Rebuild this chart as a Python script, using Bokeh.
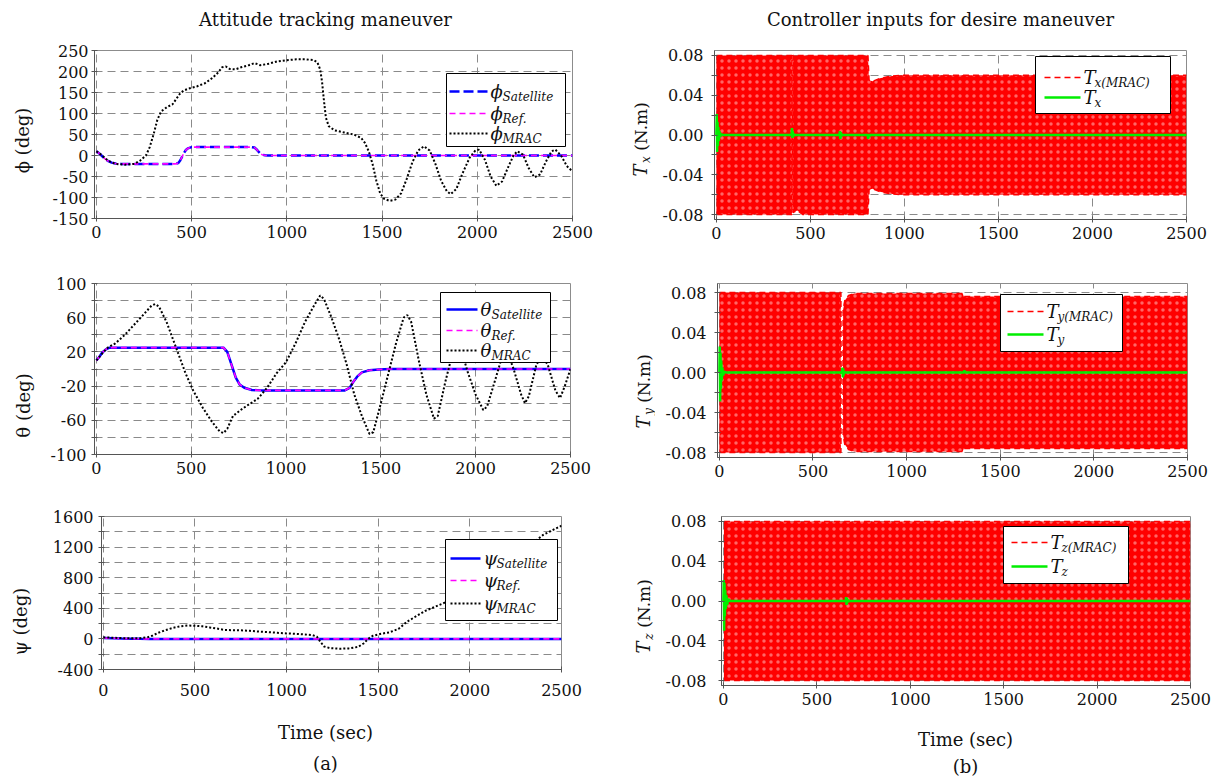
import math
from bokeh.plotting import figure
from bokeh.layouts import row, column
from bokeh.models import Range1d, FixedTicker, PrintfTickFormatter, Label
from bokeh.embed import file_html
from bokeh.resources import INLINE

FONT = "DejaVu Serif"
RED = "#ff0000"
GREEN = "#00ee00"
BLUE = "#0000ff"
MAGENTA = "#ff00ff"
GRID = "#8a8a8a"
INK = "#111111"

# ---------------- data ----------------
time_ticks = [0, 500, 1000, 1500, 2000, 2500]

# roll angle phi (deg)
phi_ref_t = [0, 20, 40, 60, 80, 100, 130, 415, 430, 440, 450, 460, 470, 480, 500, 815, 830, 840, 850, 860, 870, 885, 900, 2500]
phi_ref = [10, 3, -6, -13, -17, -19, -20, -20, -18, -12, -3, 6, 13, 17, 20, 20, 19, 15, 10, 5, 2, 0.5, 0, 0]
phi_sat_t = phi_ref_t
phi_sat = phi_ref
phi_mrac_t = [0, 30, 60, 100, 150, 200, 230, 260, 280, 300, 320, 340, 370, 400, 420, 440, 460, 490, 530, 570, 610,
              640, 660, 680, 700, 730, 760, 800, 830, 860, 900, 950, 1000, 1050, 1100, 1140, 1160, 1175, 1185, 1195,
              1205, 1220, 1250, 1300, 1350, 1390, 1410, 1430, 1450, 1470, 1490, 1510, 1540, 1570, 1600, 1630, 1660,
              1690, 1720, 1750, 1780, 1810, 1840, 1860, 1890, 1920, 1960, 1990, 2010, 2040, 2070, 2100, 2130, 2160,
              2190, 2210, 2240, 2270, 2300, 2330, 2360, 2390, 2410, 2440, 2470, 2500]
phi_mrac = [10, 0, -12, -20, -22, -20, -12, 0, 20, 50, 85, 105, 115, 122, 135, 148, 155, 160, 165, 172, 185,
            198, 210, 212, 206, 205, 210, 215, 220, 215, 218, 224, 227, 229, 229, 227, 222, 205, 175, 130,
            90, 70, 60, 55, 50, 42, 30, 10, -20, -60, -90, -103, -108, -105, -90, -55, -15,
            12, 22, 12, -20, -60, -85, -92, -80, -45, -5, 12, 14, -10, -50, -72, -62, -30,
            0, 10, 2, -30, -52, -45, -15, 10, 14, 0, -25, -38]

# pitch angle theta (deg)
theta_ref_t = [0, 15, 30, 50, 70, 670, 690, 705, 720, 735, 755, 780, 820, 870, 1310, 1335, 1355, 1375, 1400, 1440, 1490, 1550, 2500]
theta_ref = [10, 14, 19, 23, 25, 25, 20, 10, 0, -10, -18, -22, -24.5, -25, -25, -22, -15, -9, -4, -1.5, -0.5, 0, 0]
theta_sat_t = theta_ref_t
theta_sat = theta_ref
theta_mrac_t = [0, 30, 60, 100, 150, 200, 250, 290, 310, 330, 370, 420, 470, 510, 560, 610, 650, 670, 690, 720,
                760, 800, 850, 900, 950, 1000, 1050, 1100, 1150, 1180, 1200, 1240, 1280, 1320, 1360, 1400, 1440,
                1460, 1500, 1540, 1580, 1620, 1640, 1660, 1700, 1740, 1780, 1800, 1840, 1880, 1920, 1960, 2000,
                2040, 2060, 2100, 2140, 2170, 2200, 2240, 2260, 2280, 2320, 2350, 2380, 2420, 2445, 2470, 2500]
theta_mrac = [10, 18, 25, 30, 40, 52, 64, 74, 76, 73, 55, 25, -5, -25, -45, -62, -73, -75, -70, -55,
              -48, -42, -35, -22, -5, 8, 30, 55, 75, 86, 82, 60, 35, 5, -30, -55, -76,
              -74, -40, -5, 30, 60, 63, 55, 10, -30, -58, -55, -15, 20, 25, -5, -30,
              -48, -44, -15, 15, 18, 0, -30, -40, -32, 5, 15, 5, -25, -34, -20, 0]

# yaw angle psi (deg)
psi_ref_t = [0, 50, 100, 150, 200, 250, 2500]
psi_ref = [12, 8, 5, 3, 1, 0, 0]
psi_sat_t = psi_ref_t
psi_sat = psi_ref
psi_mrac_t = [0, 50, 100, 150, 200, 240, 270, 300, 340, 380, 420, 460, 500, 540, 580, 620, 660, 700, 750, 800,
              850, 900, 950, 1000, 1050, 1100, 1140, 1165, 1185, 1205, 1240, 1290, 1340, 1390, 1420, 1445, 1470,
              1510, 1560, 1610, 1660, 1710, 1760, 1810, 1850, 1900, 2000, 2100, 2200, 2300, 2400, 2450, 2500]
psi_mrac = [20, 15, 10, 8, 10, 20, 45, 80, 115, 145, 165, 175, 172, 165, 150, 135, 118, 114, 112, 105,
            95, 88, 80, 72, 66, 58, 50, 30, -40, -100, -122, -128, -124, -105, -60, 0, 40,
            65, 85, 130, 230, 300, 370, 420, 460, 520, 650, 820, 1000, 1170, 1360, 1420, 1480]

# control torques (N.m): MRAC envelope and proposed controller
tx_env_t = [0, 402, 403, 406, 407, 430, 460, 800, 806, 812, 830, 870, 920, 980, 2500]
tx_env_hi = [0.08, 0.08, 0.0, 0.0, 0.08, 0.08, 0.08, 0.08, 0.08, 0.055, 0.054, 0.057, 0.059, 0.06, 0.06]
tx_env_lo = [-0.08, -0.08, 0.0, 0.0, -0.078, -0.076, -0.08, -0.08, -0.08, -0.055, -0.054, -0.057, -0.059, -0.06, -0.06]
tx_t = [0, 2, 4, 6, 8, 10, 13, 16, 20, 25, 35, 400, 402, 404, 406, 408, 411, 415, 655, 657, 659, 661, 663, 666,
        670, 805, 807, 809, 812, 816, 2500]
tx_v = [0.0, 0.021, -0.017, 0.013, -0.011, 0.008, -0.006, 0.004, -0.002, 0.001, 0.0, 0.0, 0.007, -0.003, 0.004,
        -0.002, 0.001, 0.0, 0.0, 0.004, -0.004, 0.003, -0.002, 0.001, 0.0, 0.0, -0.004, 0.001, -0.002, 0.0, 0.0]

ty_env_t = [0, 649, 650, 660, 661, 670, 690, 720, 1300, 1305, 2500]
ty_env_hi = [0.08, 0.08, 0.0, 0.0, 0.063, 0.072, 0.077, 0.079, 0.079, 0.076, 0.076]
ty_env_lo = [-0.08, -0.08, 0.0, 0.0, -0.063, -0.072, -0.077, -0.079, -0.079, -0.076, -0.076]
ty_t = [0, 2, 4, 6, 8, 10, 13, 16, 20, 26, 35, 655, 657, 659, 661, 663, 666, 670, 1305, 1308, 1312, 2500]
ty_v = [0.0, 0.026, -0.029, 0.02, -0.016, 0.012, -0.008, 0.005, -0.003, 0.001, 0.0, 0.0, 0.005, -0.005, 0.004,
        -0.003, 0.001, 0.0, 0.0, 0.002, 0.0, 0.0]

tz_env_t = [3, 2500]
tz_env_hi = [0.08, 0.08]
tz_env_lo = [-0.08, -0.08]
tz_t = [0, 2, 4, 6, 8, 10, 13, 16, 20, 26, 35, 655, 657, 659, 661, 663, 666, 670, 2500]
tz_v = [0.0, 0.021, -0.03, 0.018, -0.015, 0.011, -0.008, 0.006, -0.004, 0.002, 0.0, 0.0, 0.004, -0.004, 0.003,
        -0.002, 0.001, 0.0, 0.0]

deg_ticks_phi = ([-150, -100, -50, 0, 50, 100, 150, 200, 250], [])
deg_ticks_theta = ([-100, -60, -20, 20, 60, 100], [-80, -40, 0, 40, 80])
deg_ticks_psi = ([-400, 0, 400, 800, 1200, 1600], [-200, 200, 600, 1000, 1400])
torque_ticks = ([-0.08, -0.04, 0, 0.04, 0.08], [-0.06, -0.02, 0.02, 0.06])


# ---------------- helpers ----------------
def gx(s, X):
    x0, x1 = s["xr"]
    return x0 + (X - s["ox"] - s["fl"]) / s["fw"] * (x1 - x0)


def gy(s, Y):
    y0, y1 = s["yr"]
    return y1 - (Y - s["oy"] - s["ft"]) / s["fh"] * (y1 - y0)


def make_panel(s, yticks, yfmt, ystand, xstand=4):
    p = figure(frame_width=s["fw"], frame_height=s["fh"],
               min_border_left=s["fl"], min_border_top=s["ft"],
               min_border_right=s["cw"] - s["fl"] - s["fw"],
               min_border_bottom=s["ch"] - s["ft"] - s["fh"],
               x_range=Range1d(*s["xr"]), y_range=Range1d(*s["yr"]),
               output_backend="svg", toolbar_location=None, tools="")
    p.background_fill_color = "white"
    p.border_fill_color = "white"
    p.outline_line_color = "#8c8c8c"
    p.outline_line_width = 1

    p.xaxis.ticker = FixedTicker(ticks=time_ticks, minor_ticks=[])
    p.xaxis.formatter = PrintfTickFormatter(format="%d")
    p.yaxis.ticker = FixedTicker(ticks=yticks[0], minor_ticks=yticks[1])
    p.yaxis.formatter = PrintfTickFormatter(format=yfmt)

    for ax in (p.xaxis, p.yaxis):
        ax.axis_line_color = "#555555"
        ax.major_tick_line_color = "#555555"
        ax.minor_tick_line_color = "#555555"
        ax.major_tick_in = 3
        ax.major_tick_out = 3
        ax.minor_tick_in = 3
        ax.minor_tick_out = 3
        ax.major_label_text_font = FONT
        ax.major_label_text_font_size = "16px"
        ax.major_label_text_color = INK
    p.xaxis.major_label_standoff = xstand
    p.yaxis.major_label_standoff = ystand

    p.xgrid.grid_line_color = GRID
    p.xgrid.grid_line_dash = "8 5"
    p.ygrid.grid_line_color = GRID
    p.ygrid.grid_line_dash = "8 5"
    p.ygrid.minor_grid_line_color = GRID
    p.ygrid.minor_grid_line_dash = "8 5"
    return p


STRIP_ORIGIN = {}


def make_strip(ox, oy, w, h):
    """Blank strip used for titles and axis captions; its data units equal page pixels."""
    p = figure(frame_width=w, frame_height=h, min_border_left=0, min_border_right=0,
               min_border_top=0, min_border_bottom=0,
               x_range=Range1d(0, w), y_range=Range1d(h, 0),
               x_axis_type=None, y_axis_type=None,
               output_backend="svg", toolbar_location=None, tools="")
    p.outline_line_color = None
    p.background_fill_color = "white"
    p.border_fill_color = "white"
    STRIP_ORIGIN[p.id] = (ox, oy)
    return p


def caption(p, X, Y, txt, size="18px", style="normal", angle=0.0):
    ox, oy = STRIP_ORIGIN[p.id]
    p.add_layout(Label(x=X - ox, y=Y - oy, text=txt, text_font=FONT, text_font_size=size,
                       text_font_style=style, text_align="center", text_baseline="middle",
                       text_color=INK, angle=angle))


def text(p, s, X, Y, txt, size="17px", style="normal", align="left"):
    p.add_layout(Label(x=gx(s, X), y=gy(s, Y), text=txt, text_font=FONT, text_font_size=size,
                       text_font_style=style, text_align=align, text_baseline="middle",
                       text_color=INK, level="overlay"))


def legend(p, s, box, entries):
    x0, y0, x1, y1 = box
    p.quad(left=[gx(s, x0)], right=[gx(s, x1)], top=[gy(s, y0)], bottom=[gy(s, y1)],
           fill_color="white", line_color="black", line_width=1, level="overlay")
    for Y, sx0, sx1, kw, main, sub, subdx in entries:
        p.line([gx(s, sx0), gx(s, sx1)], [gy(s, Y), gy(s, Y)], level="overlay", **kw)
        tx = sx1 + 3
        text(p, s, tx, Y, main, size="18px", style="italic")
        text(p, s, tx + subdx, Y + 5, sub, size="12px", style="italic")


def torque_ylabel(strip, X, C, sub):
    yt = C + 31
    caption(strip, X, yt, "T", size="18px", style="italic", angle=math.pi / 2)
    caption(strip, X + 5, yt - 11, sub, size="12px", style="italic", angle=math.pi / 2)
    caption(strip, X, yt - 44, "(N.m)", size="17px", angle=math.pi / 2)


sat_kw_dash = dict(line_color=BLUE, line_width=2.5, line_dash="10 4")
sat_kw = dict(line_color=BLUE, line_width=2.5)
ref_kw = dict(line_color=MAGENTA, line_width=1.6, line_dash="6 4")
mrac_kw = dict(line_color="black", line_width=2, line_dash="2 2")
red_kw = dict(line_color=RED, line_width=1.5, line_dash="6 4")
green_kw = dict(line_color=GREEN, line_width=2.5)

# ---------------- panel geometry (page pixels) ----------------
S_phi = dict(ox=40, oy=36, cw=560, ch=214, fl=54, ft=14, fw=478, fh=168, xr=(-10, 2500), yr=(-150, 250))
S_tx = dict(ox=655, oy=36, cw=560, ch=214, fl=59, ft=14, fw=472, fh=169, xr=(-10, 2500), yr=(-0.085, 0.085))
S_theta = dict(ox=40, oy=250, cw=560, ch=240, fl=54, ft=33, fw=476, fh=171, xr=(-10, 2500), yr=(-100, 100))
S_ty = dict(ox=655, oy=250, cw=560, ch=240, fl=62, ft=19, fw=470, fh=174, xr=(-10, 2500), yr=(-0.085, 0.089))
S_psi = dict(ox=40, oy=490, cw=560, ch=222, fl=61, ft=26, fw=460, fh=153, xr=(-10, 2500), yr=(-400, 1600))
S_tz = dict(ox=655, oy=490, cw=560, ch=222, fl=66, ft=21, fw=469, fh=169, xr=(-10, 2500), yr=(-0.085, 0.085))

# caption strips
top = make_strip(0, 0, 1215, 36)
left1, left2, left3 = make_strip(0, 36, 40, 214), make_strip(0, 250, 40, 240), make_strip(0, 490, 40, 222)
right1, right2, right3 = make_strip(600, 36, 55, 214), make_strip(600, 250, 55, 240), make_strip(600, 490, 55, 222)
bottom = make_strip(0, 712, 1215, 66)

caption(top, 325, 19, "Attitude tracking maneuver")
caption(top, 940, 19, "Controller inputs for desire maneuver")

# ---------------- phi ----------------
p1 = make_panel(S_phi, deg_ticks_phi, "%d", 3)
p1.line(phi_sat_t, phi_sat, **sat_kw_dash)
p1.line(phi_ref_t, phi_ref, **ref_kw)
p1.line(phi_mrac_t, phi_mrac, **mrac_kw)
legend(p1, S_phi, (446, 73, 565, 146), [
    (91, 449, 487, sat_kw_dash, "ϕ", "Satellite", 12),
    (113, 449, 487, ref_kw, "ϕ", "Ref.", 12),
    (133, 449, 487, mrac_kw, "ϕ", "MRAC", 12),
])
caption(left1, 22, 126, "ϕ (deg)", angle=math.pi / 2)

# ---------------- theta ----------------
p2 = make_panel(S_theta, deg_ticks_theta, "%d", 5)
p2.line(theta_sat_t, theta_sat, **sat_kw)
p2.line(theta_ref_t, theta_ref, **ref_kw)
p2.line(theta_mrac_t, theta_mrac, **mrac_kw)
legend(p2, S_theta, (440, 292, 550, 362), [
    (309, 446, 477, sat_kw, "θ", "Satellite", 11),
    (330, 446, 477, ref_kw, "θ", "Ref.", 11),
    (350, 446, 477, mrac_kw, "θ", "MRAC", 11),
])
caption(left2, 23, 372, "θ (deg)", angle=math.pi / 2)

# ---------------- psi ----------------
p3 = make_panel(S_psi, deg_ticks_psi, "%d", 5, xstand=11)
p3.line(psi_sat_t, psi_sat, **sat_kw)
p3.line(psi_ref_t, psi_ref, **ref_kw)
p3.line(psi_mrac_t, psi_mrac, **mrac_kw)
legend(p3, S_psi, (445, 539, 557, 620), [
    (558, 450, 480, sat_kw, "ψ", "Satellite", 13),
    (580, 450, 480, ref_kw, "ψ", "Ref.", 13),
    (603, 450, 480, mrac_kw, "ψ", "MRAC", 13),
])
caption(left3, 20, 595, "ψ (deg)", angle=math.pi / 2)
caption(bottom, 325, 732, "Time (sec)")
caption(bottom, 325, 763, "(a)")


# ---------------- torques ----------------
def torque_panel(s, env_t, hi, lo, t, v, sub, leg_box, rows_y, sx0, ystand):
    p = make_panel(s, torque_ticks, "%.2f", ystand)
    # dense saturated oscillation drawn as its envelope band, light speckle for the line gaps
    p.varea(x=env_t, y1=lo, y2=hi, fill_color=RED, hatch_pattern="dot", hatch_color="white",
            hatch_alpha=0.4, hatch_scale=7, hatch_weight=0.6)
    p.line(env_t, hi, **red_kw)
    p.line(env_t, lo, **red_kw)
    p.line(t, v, **green_kw)
    legend(p, s, leg_box, [
        (rows_y[0], sx0, sx0 + 36, red_kw, "T", sub + "(MRAC)", 11),
        (rows_y[1], sx0, sx0 + 36, green_kw, "T", sub, 11),
    ])
    return p


p4 = torque_panel(S_tx, tx_env_t, tx_env_hi, tx_env_lo, tx_t, tx_v, "x",
                  (1035, 56, 1170, 113), (77, 97), 1044, 8)
torque_ylabel(right1, 640, 125, "x")

p5 = torque_panel(S_ty, ty_env_t, ty_env_hi, ty_env_lo, ty_t, ty_v, "y",
                  (1000, 280, 1122, 337), (297, 320), 1007, 8)
torque_ylabel(right2, 643, 358, "y")

p6 = torque_panel(S_tz, tz_env_t, tz_env_hi, tz_env_lo, tz_t, tz_v, "z",
                  (1003, 521, 1128, 578), (537, 561), 1011, 12)
torque_ylabel(right3, 643, 590, "z")
caption(bottom, 965, 739, "Time (sec)")
caption(bottom, 965, 766, "(b)")

layout = column(
    top,
    row(left1, p1, right1, p4),
    row(left2, p2, right2, p5),
    row(left3, p3, right3, p6),
    bottom,
)
open("out.html", "w").write(file_html(layout, INLINE))
